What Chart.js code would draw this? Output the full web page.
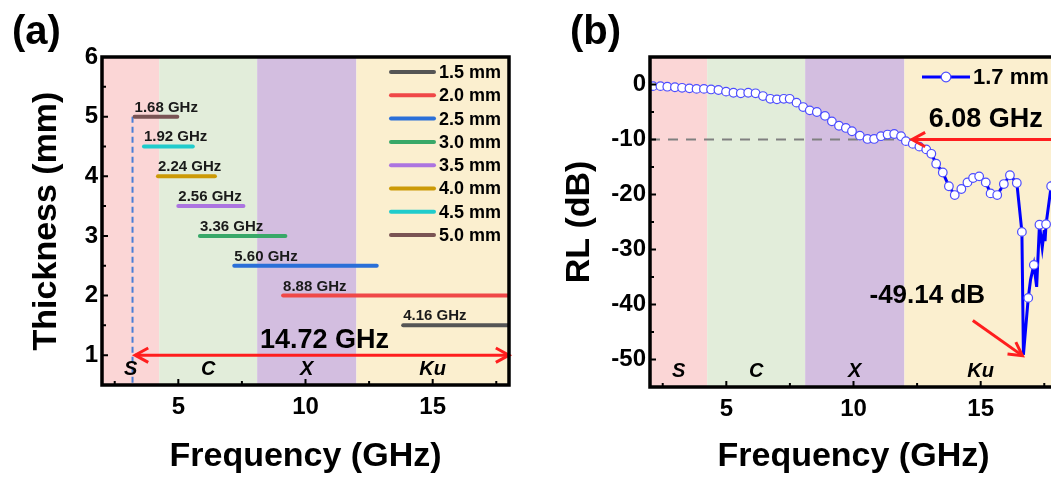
<!DOCTYPE html>
<html>
<head>
<meta charset="utf-8">
<script src="https://cdn.jsdelivr.net/npm/chart.js@4.4.1/dist/chart.umd.min.js"></script>
<style>
  html, body { margin: 0; padding: 0; background: #fff; overflow: hidden; }
  #wrap { position: relative; width: 1051px; height: 478px; overflow: hidden; }
  .box { position: absolute; top: 0; width: 548px; height: 478px; }
  .tag { position: absolute; top: 8px; line-height: 1; font: bold 40px "Liberation Sans", Arial, sans-serif; color: #000; }
</style>
</head>
<body>
<div id="wrap">
  <div class="box" style="left:0"><canvas id="chartA" width="548" height="478"></canvas></div>
  <div class="box" style="left:548px"><canvas id="chartB" width="548" height="478"></canvas></div>
  <div class="tag" style="left:12px">(a)</div>
  <div class="tag" style="left:570px">(b)</div>
</div>
<script>
// ---- data ----
// shared frequency axis + microwave bands
var freqTicks = [5, 10, 15];
var freqMinor = [2.5, 7.5, 12.5, 17.5];
var bandNames = ['S', 'C', 'X', 'Ku'];
var bandEdges = [2, 4.25, 8.1, 12, 18];

// (a) effective absorption bandwidth per thickness
var thickness = [1.5, 2.0, 2.5, 3.0, 3.5, 4.0, 4.5, 5.0];
var eabStart = [13.84, 9.12, 7.2, 5.85, 5.0, 4.2, 3.65, 3.28];
var eabEnd = [18, 18, 12.8, 9.21, 7.56, 6.44, 5.57, 4.96];
var eabLabel = ['4.16 GHz', '8.88 GHz', '5.60 GHz', '3.36 GHz', '2.56 GHz', '2.24 GHz', '1.92 GHz', '1.68 GHz'];
var thickTicks = [1, 2, 3, 4, 5, 6];
var thickMinor = [1.5, 2.5, 3.5, 4.5, 5.5];
var totalSpan = [3.3, 18];      // 14.72 GHz arrow
var totalLabel = '14.72 GHz';
var guideFreq = 3.2;            // dashed guide line

// (b) RL curve of the 1.7 mm sample (points with circle markers)
var rlFreq = [2.12, 2.41, 2.68, 2.98, 3.26, 3.55, 3.83, 4.12, 4.40, 4.69, 4.99, 5.28, 5.57, 5.86, 6.15, 6.44,
  6.73, 6.99, 7.26, 7.49, 7.76, 8.02, 8.28, 8.56, 8.88, 9.15, 9.43, 9.70, 9.94, 10.25, 10.55, 10.81,
  11.08, 11.34, 11.60, 11.87, 12.06, 12.33, 12.59, 12.86, 13.06, 13.25, 13.51, 13.75, 13.98, 14.24,
  14.48, 14.70, 14.94, 15.20, 15.39, 15.65, 15.91, 16.15, 16.42, 16.62, 16.87, 17.09, 17.31, 17.57, 17.77, 18.0];
var rlValue = [-0.3, -0.3, -0.4, -0.5, -0.6, -0.7, -0.8, -0.8, -0.9, -1.0, -1.3, -1.5, -1.6, -1.5, -1.6, -2.1,
  -2.6, -2.7, -2.6, -2.6, -3.3, -4.1, -4.7, -5.0, -5.7, -6.7, -7.5, -7.9, -8.5, -9.3, -9.9, -9.9,
  -9.4, -9.1, -9.0, -9.4, -10.3, -10.8, -11.3, -11.8, -12.6, -14.4, -16.0, -18.5, -20.1, -19.0,
  -17.8, -17.0, -16.7, -17.8, -19.8, -20.1, -18.1, -16.5, -17.9, -26.8, -38.8, -32.8, -25.5, -25.4, -18.5, -14.0];
// extra samples in the dip (line only, no marker)
var dipFreq = [16.68, 16.96, 17.2, 17.42, 17.5, 17.53];
var dipValue = [-49.14, -35.5, -36.8, -29.6, -26.5, -28.5];
var rlTicks = [-50, -40, -30, -20, -10, 0];
var rlMinor = [-45, -35, -25, -15, -5];
var rlLimit = -10;
var eabB = [12.3, 18.38];       // 6.08 GHz arrow
var eabBLabel = '6.08 GHz';
var minLabel = '-49.14 dB';
var minArrow = [14.69, -42.9, 16.64, -49.3];

// ---- styles ----
var FONT = '"Liberation Sans", Arial, sans-serif';
var bandColors = ['#fbd6d6', '#e2edda', '#d3bee0', '#fbefcf'];
var lineColors = ['#555555', '#f04848', '#2a6fd8', '#38a868', '#ac74e0', '#cc9a06', '#20cccc', '#7a5454'];
var RED = '#ff1e1e';

Chart.defaults.font.family = FONT;
Chart.defaults.color = '#000';

function bold(size, italic) {
  return (italic ? 'italic ' : '') + 'bold ' + size + 'px ' + FONT;
}

function fixedTicks(list) {
  return function (scale) {
    scale.ticks = list.map(function (v) { return { value: v }; });
  };
}

// background colour bands (S, C, X, Ku)
function drawBands(chart) {
  var ctx = chart.ctx, a = chart.chartArea, x = chart.scales.x;
  ctx.save();
  for (var i = 0; i < bandNames.length; i++) {
    var x0 = x.getPixelForValue(bandEdges[i]);
    var x1 = x.getPixelForValue(bandEdges[i + 1]);
    ctx.fillStyle = bandColors[i];
    ctx.fillRect(x0, a.top, x1 - x0, a.bottom - a.top);
  }
  ctx.restore();
}

function drawBandNames(chart, yValue) {
  var ctx = chart.ctx, x = chart.scales.x, y = chart.scales.y;
  ctx.save();
  ctx.font = bold(20, true);
  ctx.fillStyle = '#000';
  ctx.textAlign = 'center';
  ctx.textBaseline = 'middle';
  for (var i = 0; i < bandNames.length; i++) {
    var mid = (bandEdges[i] + bandEdges[i + 1]) / 2;
    ctx.fillText(bandNames[i], x.getPixelForValue(mid), y.getPixelForValue(yValue));
  }
  ctx.restore();
}

// frame around the plot + inward ticks
function drawFrame(chart, xMinor, yMinor) {
  var ctx = chart.ctx, a = chart.chartArea, x = chart.scales.x, y = chart.scales.y;
  ctx.save();
  ctx.strokeStyle = '#000';
  ctx.lineWidth = 2;
  ctx.beginPath();
  x.ticks.forEach(function (t) {
    var px = x.getPixelForValue(t.value);
    ctx.moveTo(px, a.bottom); ctx.lineTo(px, a.bottom - 6);
  });
  xMinor.forEach(function (v) {
    var px = x.getPixelForValue(v);
    ctx.moveTo(px, a.bottom); ctx.lineTo(px, a.bottom - 4);
  });
  y.ticks.forEach(function (t) {
    var py = y.getPixelForValue(t.value);
    ctx.moveTo(a.left, py); ctx.lineTo(a.left + 6, py);
  });
  yMinor.forEach(function (v) {
    var py = y.getPixelForValue(v);
    ctx.moveTo(a.left, py); ctx.lineTo(a.left + 4, py);
  });
  ctx.stroke();
  ctx.lineWidth = 3.5;
  ctx.strokeRect(a.left, a.top, a.right - a.left, a.bottom - a.top);
  ctx.restore();
}

function arrowHead(ctx, x, y, ang) {
  ctx.beginPath();
  ctx.moveTo(x - 15 * Math.cos(ang - 0.5), y - 15 * Math.sin(ang - 0.5));
  ctx.lineTo(x, y);
  ctx.lineTo(x - 15 * Math.cos(ang + 0.5), y - 15 * Math.sin(ang + 0.5));
  ctx.stroke();
}

function arrow(ctx, x0, y0, x1, y1, both) {
  ctx.save();
  ctx.strokeStyle = RED;
  ctx.lineWidth = 3;
  ctx.beginPath();
  ctx.moveTo(x0, y0);
  ctx.lineTo(x1, y1);
  ctx.stroke();
  arrowHead(ctx, x1, y1, Math.atan2(y1 - y0, x1 - x0));
  if (both) arrowHead(ctx, x0, y0, Math.atan2(y0 - y1, x0 - x1));
  ctx.restore();
}

function freqAxis(h) {
  return {
    type: 'linear', min: 2, max: 18,
    afterBuildTicks: fixedTicks(freqTicks),
    afterFit: function (s) { s.height = h; },
    grid: { display: false, drawTicks: false },
    border: { display: false },
    ticks: { font: { size: 24, weight: 'bold' }, padding: 8, autoSkip: false, maxRotation: 0 },
    title: { display: true, text: 'Frequency (GHz)', font: { size: 34, weight: 'bold' }, padding: { top: 0, bottom: 1 } }
  };
}

function valueAxis(min, max, list, title, padTop) {
  return {
    type: 'linear', min: min, max: max,
    afterBuildTicks: fixedTicks(list),
    afterFit: function (s) { s.width = 102; },
    grid: { display: false, drawTicks: false },
    border: { display: false },
    ticks: { font: { size: 24, weight: 'bold' }, padding: 4, autoSkip: false },
    title: { display: true, text: title, font: { size: 34, weight: 'bold' }, padding: { top: padTop, bottom: 0 } }
  };
}

// ---- panel (a) ----
var panelA = {
  id: 'panelA',
  beforeDatasetsDraw: function (chart) {
    drawBands(chart);
    var ctx = chart.ctx, x = chart.scales.x, y = chart.scales.y;
    ctx.save();
    ctx.strokeStyle = '#4a7fd6';
    ctx.lineWidth = 2;
    ctx.setLineDash([6, 4]);
    ctx.beginPath();
    ctx.moveTo(x.getPixelForValue(guideFreq), y.getPixelForValue(5));
    ctx.lineTo(x.getPixelForValue(guideFreq), chart.chartArea.bottom);
    ctx.stroke();
    ctx.restore();
  },
  afterDatasetsDraw: function (chart) {
    var ctx = chart.ctx, x = chart.scales.x, y = chart.scales.y;
    ctx.save();
    ctx.font = bold(15);
    ctx.fillStyle = '#1a1a1a';
    ctx.textAlign = 'left';
    ctx.textBaseline = 'alphabetic';
    for (var i = 0; i < thickness.length; i++) {
      ctx.fillText(eabLabel[i], x.getPixelForValue(eabStart[i]), y.getPixelForValue(thickness[i]) - 5);
    }
    ctx.restore();
    var ya = y.getPixelForValue(1);
    arrow(ctx, x.getPixelForValue(totalSpan[0]), ya, x.getPixelForValue(totalSpan[1]), ya, true);
    ctx.save();
    ctx.font = bold(27);
    ctx.fillStyle = '#000';
    ctx.textAlign = 'center';
    ctx.fillText(totalLabel, x.getPixelForValue(10.75), y.getPixelForValue(1.12));
    ctx.restore();
    drawBandNames(chart, 0.76);
  },
  afterDraw: function (chart) {
    drawFrame(chart, freqMinor, thickMinor);
    // legend, top right inside the plot
    var ctx = chart.ctx, a = chart.chartArea;
    ctx.save();
    ctx.font = bold(18);
    ctx.textBaseline = 'middle';
    ctx.textAlign = 'left';
    ctx.lineCap = 'round';
    ctx.lineWidth = 4;
    for (var i = 0; i < thickness.length; i++) {
      var ly = a.top + 15 + 23.3 * i;
      ctx.strokeStyle = lineColors[i];
      ctx.beginPath();
      ctx.moveTo(a.right - 118, ly);
      ctx.lineTo(a.right - 75, ly);
      ctx.stroke();
      ctx.fillStyle = '#000';
      ctx.fillText(thickness[i].toFixed(1) + ' mm', a.right - 70, ly + 1);
    }
    ctx.restore();
  }
};

new Chart(document.getElementById('chartA'), {
  type: 'line',
  data: {
    datasets: thickness.map(function (t, i) {
      return {
        label: t.toFixed(1) + ' mm',
        data: [{ x: eabStart[i], y: t }, { x: eabEnd[i], y: t }],
        borderColor: lineColors[i],
        borderWidth: 4,
        borderCapStyle: 'round',
        pointRadius: 0,
        fill: false
      };
    })
  },
  options: {
    responsive: false,
    animation: false,
    devicePixelRatio: 1,
    layout: { padding: { top: 57, right: 39, left: 0, bottom: 0 } },
    plugins: { legend: { display: false }, tooltip: { enabled: false } },
    scales: {
      x: freqAxis(93),
      y: valueAxis(0.5, 6, thickTicks, 'Thickness (mm)', 26)
    }
  },
  plugins: [panelA]
});

// ---- panel (b) ----
var rlPoints = rlFreq.map(function (f, i) { return { x: f, y: rlValue[i], m: true }; })
  .concat(dipFreq.map(function (f, i) { return { x: f, y: dipValue[i], m: false }; }))
  .sort(function (p, q) { return p.x - q.x; });

var panelB = {
  id: 'panelB',
  beforeDatasetsDraw: function (chart) {
    drawBands(chart);
    var ctx = chart.ctx, x = chart.scales.x, y = chart.scales.y;
    ctx.save();
    ctx.strokeStyle = '#808080';
    ctx.lineWidth = 2;
    ctx.setLineDash([10, 8]);
    ctx.beginPath();
    ctx.moveTo(x.getPixelForValue(2), y.getPixelForValue(rlLimit));
    ctx.lineTo(x.getPixelForValue(eabB[0]), y.getPixelForValue(rlLimit));
    ctx.stroke();
    ctx.restore();
  },
  afterDatasetsDraw: function (chart) {
    var ctx = chart.ctx, x = chart.scales.x, y = chart.scales.y;
    var ya = y.getPixelForValue(rlLimit);
    arrow(ctx, x.getPixelForValue(eabB[0]), ya, x.getPixelForValue(eabB[1]), ya, true);
    arrow(ctx, x.getPixelForValue(minArrow[0]), y.getPixelForValue(minArrow[1]),
      x.getPixelForValue(minArrow[2]), y.getPixelForValue(minArrow[3]), false);
    ctx.save();
    ctx.font = bold(27);
    ctx.fillStyle = '#000';
    ctx.textAlign = 'center';
    ctx.fillText(eabBLabel, x.getPixelForValue(15.2), y.getPixelForValue(-7.8));
    ctx.font = bold(26);
    ctx.fillText(minLabel, x.getPixelForValue(12.9), y.getPixelForValue(-39.8));
    ctx.restore();
    drawBandNames(chart, -52.1);
  },
  afterDraw: function (chart) {
    drawFrame(chart, freqMinor, rlMinor);
    var ctx = chart.ctx, a = chart.chartArea;
    var ly = a.top + 20;
    ctx.save();
    ctx.strokeStyle = '#0000ff';
    ctx.lineWidth = 3;
    ctx.beginPath();
    ctx.moveTo(a.right - 135, ly);
    ctx.lineTo(a.right - 87, ly);
    ctx.stroke();
    ctx.beginPath();
    ctx.arc(a.right - 111, ly, 4.8, 0, Math.PI * 2);
    ctx.fillStyle = '#fff';
    ctx.fill();
    ctx.lineWidth = 1.2;
    ctx.strokeStyle = '#4d4dff';
    ctx.stroke();
    ctx.font = bold(22);
    ctx.fillStyle = '#000';
    ctx.textBaseline = 'middle';
    ctx.fillText('1.7 mm', a.right - 84, ly + 1);
    ctx.restore();
  }
};

new Chart(document.getElementById('chartB'), {
  type: 'line',
  data: {
    datasets: [{
      label: '1.7 mm',
      data: rlPoints,
      borderColor: '#0000ff',
      borderWidth: 3,
      tension: 0,
      pointRadius: function (c) { return c.raw && c.raw.m ? 4.3 : 0; },
      pointBackgroundColor: '#ffffff',
      pointBorderColor: '#4d4dff',
      pointBorderWidth: 1.2,
      fill: false
    }]
  },
  options: {
    responsive: false,
    animation: false,
    devicePixelRatio: 1,
    layout: { padding: { top: 57, right: 39, left: 0, bottom: 0 } },
    plugins: { legend: { display: false }, tooltip: { enabled: false } },
    scales: {
      x: freqAxis(91),
      y: valueAxis(-55, 5, rlTicks, 'RL (dB)', 11)
    }
  },
  plugins: [panelB]
});
</script>
</body>
</html>
